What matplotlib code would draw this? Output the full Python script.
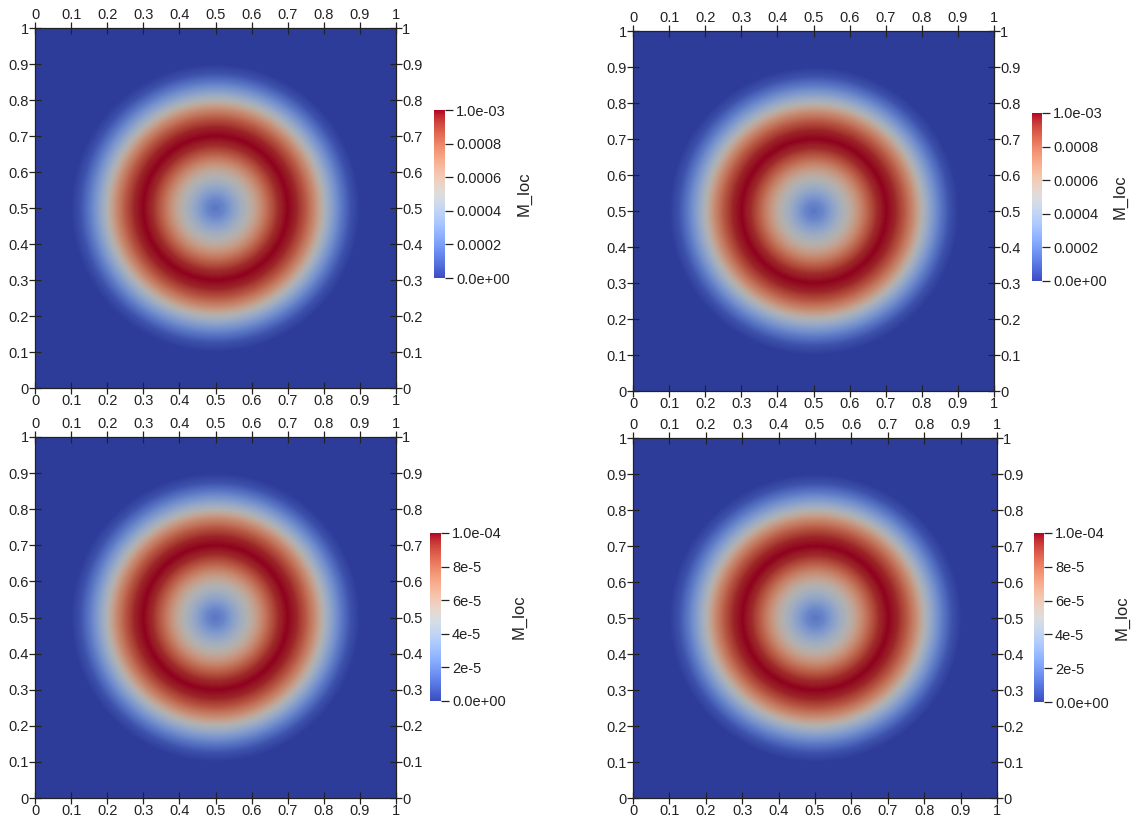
import numpy as np
import matplotlib
matplotlib.use("Agg")
import matplotlib.pyplot as plt
from matplotlib.colors import ListedColormap, Normalize
from matplotlib.cm import ScalarMappable

plt.rcParams['font.family'] = ['Liberation Sans', 'DejaVu Sans']

# radial profile of M_loc (fraction of the maximum)
radius = [0.0, 0.025, 0.05, 0.075, 0.1, 0.125, 0.15, 0.175, 0.2, 0.225,
          0.25, 0.275, 0.3, 0.325, 0.35, 0.375, 0.4, 0.75]
profile = [0.17, 0.23, 0.34, 0.45, 0.55, 0.69, 0.83, 0.95, 1.0, 0.96,
           0.85, 0.70, 0.50, 0.33, 0.18, 0.06, 0.0, 0.0]
center = (0.5, 0.5)

# maximum value of each panel (top-left, top-right, bottom-left, bottom-right)
panel_max = [1e-3, 1e-3, 1e-4, 1e-4]
cbar_ticks = [[0, 2e-4, 4e-4, 6e-4, 8e-4, 1e-3]] * 2 + [[0, 2e-5, 4e-5, 6e-5, 8e-5, 1e-4]] * 2
cbar_labels = [["0.0e+00", "0.0002", "0.0004", "0.0006", "0.0008", "1.0e-03"]] * 2 + \
              [["0.0e+00", "2e-5", "4e-5", "6e-5", "8e-5", "1.0e-04"]] * 2
ticks = np.round(np.arange(0, 1.01, 0.1), 1)
tick_labels = ["0"] + ["%.1f" % t for t in ticks[1:-1]] + ["1"]

W, H = 1135, 819
# pixel boxes (left, top, width, height)
plot_boxes = [(35, 28, 361, 360), (633, 31, 361, 360), (35, 437, 361, 361), (633, 438, 364, 360)]
cbar_boxes = [(434, 110, 11, 168), (1032, 113, 10, 168), (430, 533, 11, 168), (1034, 533, 10, 169)]
label_pads = [5, 4, 4, 4]


def to_fig(box):
    l, t, w, h = box
    return [l / W, 1 - (t + h) / H, w / W, h / H]


# ParaView-style shading makes the surface a bit darker than the colour bar
base = plt.get_cmap('coolwarm')(np.linspace(0, 1, 256))
shaded = base.copy()
shaded[:, :3] = base[:, :3] * 0.8
shaded_cmap = ListedColormap(shaded)

x = np.linspace(0, 1, 500)
X, Y = np.meshgrid(x, x)
R = np.hypot(X - center[0], Y - center[1])
field = np.interp(R, radius, profile)

fig = plt.figure(figsize=(W / 100, H / 100), dpi=100)

for i in range(4):
    ax = fig.add_axes(to_fig(plot_boxes[i]))
    vmax = panel_max[i]
    ax.imshow(field * vmax, extent=[0, 1, 0, 1], origin='lower', cmap=shaded_cmap,
              vmin=0, vmax=vmax, interpolation='bilinear', aspect='auto')
    ax.set_xlim(0, 1)
    ax.set_ylim(0, 1)
    ax.set_xticks(ticks)
    ax.set_yticks(ticks)
    ax.set_xticklabels(tick_labels)
    ax.set_yticklabels(tick_labels)
    ax.tick_params(top=True, right=True, labeltop=True, labelright=True,
                   direction='inout', length=9, width=0.9, pad=0, labelsize=10.5,
                   colors='#222222')
    for s in ax.spines.values():
        s.set_linewidth(0.9)
        s.set_color('#222222')

    cax = fig.add_axes(to_fig(cbar_boxes[i]))
    sm = ScalarMappable(norm=Normalize(0, vmax), cmap='coolwarm')
    cb = fig.colorbar(sm, cax=cax)
    cb.outline.set_visible(False)
    cb.set_ticks(cbar_ticks[i])
    cb.set_ticklabels(cbar_labels[i])
    cax.tick_params(length=6, width=0.9, pad=2, labelsize=10.5, colors='#222222')
    cb.set_label("M_loc", fontsize=12, labelpad=label_pads[i], color='#222222')

fig.savefig("out.png", dpi=100)
